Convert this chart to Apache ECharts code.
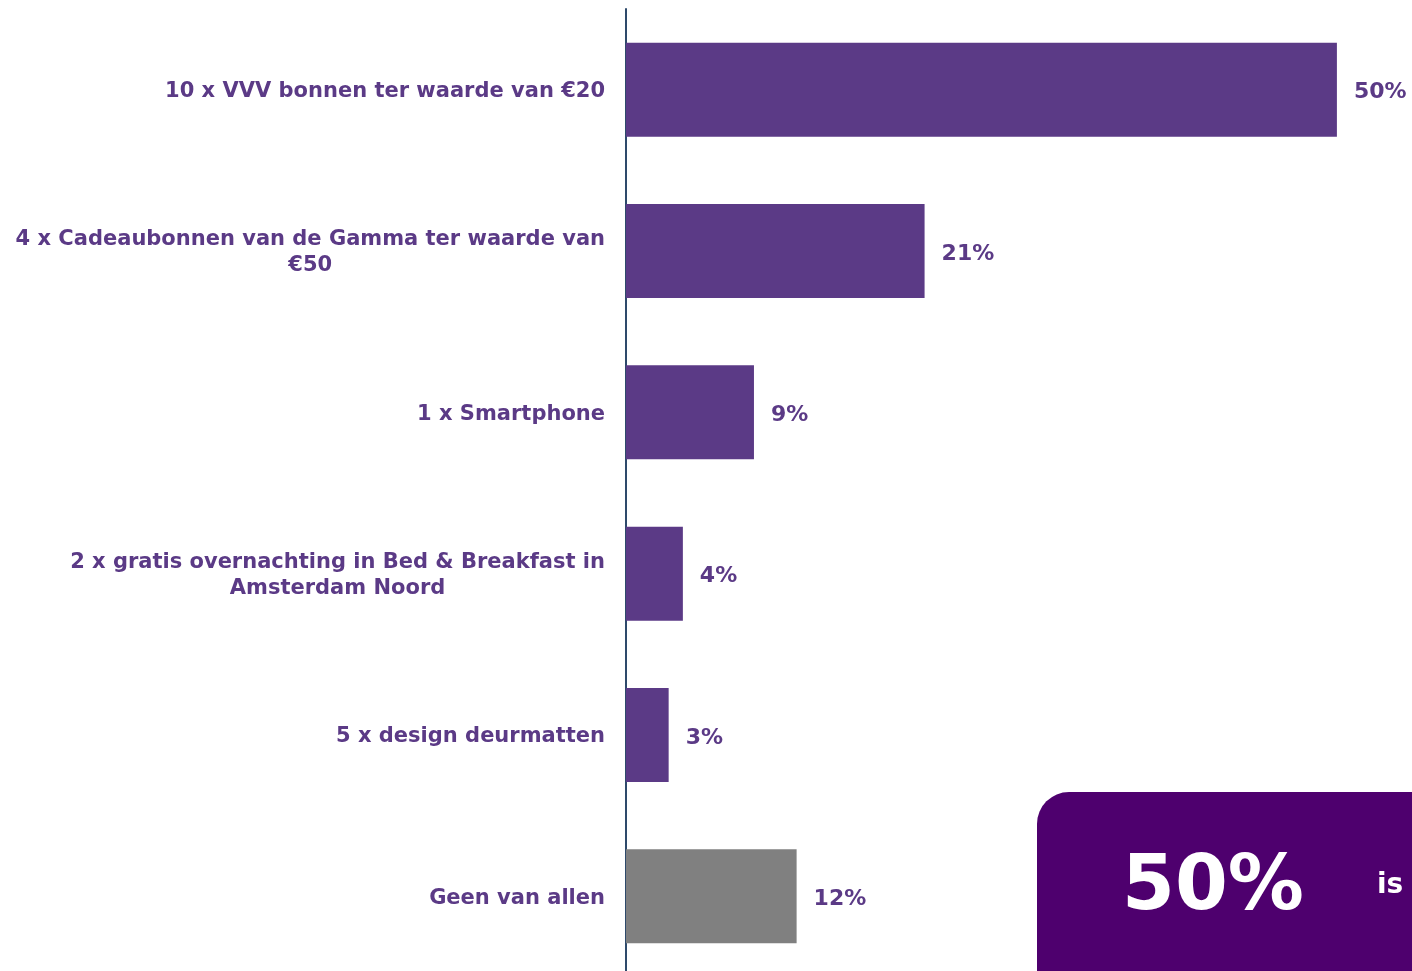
<!DOCTYPE html>
<html>
<head>
<meta charset="utf-8">
<script src="https://cdn.jsdelivr.net/npm/echarts@6/dist/echarts.min.js"></script>
<style>
  html, body { margin: 0; padding: 0; background: #ffffff; }
  #chart { width: 1412px; height: 971px; }
</style>
</head>
<body>
<div id="chart"></div>
<script>
// Prize options and share of respondents (%)
const categories = [
  '10 x VVV bonnen ter waarde van €20',
  '4 x Cadeaubonnen van de Gamma ter waarde van\n€50',
  '1 x Smartphone',
  '2 x gratis overnachting in Bed & Breakfast in\nAmsterdam Noord',
  '5 x design deurmatten',
  'Geen van allen'
];
const values = [50, 21, 9, 4, 3, 12];
const barColors = ['#5b3a86', '#5b3a86', '#5b3a86', '#5b3a86', '#5b3a86', '#808080'];
const calloutValue = '50%';
const calloutText = 'is';

const FONT = '"DejaVu Sans", Verdana, sans-serif';
const PURPLE = '#5b3a86';

const chart = echarts.init(document.getElementById('chart'), null, { renderer: 'canvas' });

chart.setOption({
  animation: false,
  grid: { left: 626, right: 4, top: 9, height: 968, outerBoundsMode: 'none', containLabel: false },
  xAxis: {
    type: 'value',
    min: 0,
    max: 55,
    show: false
  },
  yAxis: {
    type: 'category',
    inverse: true,
    data: categories,
    axisLine: { show: true, lineStyle: { color: '#2e4a6b', width: 2 } },
    axisTick: { show: false },
    axisLabel: {
      margin: 21,
      padding: [4, 0, 0, 0],
      formatter: function (v) {
        return v.split('\n').map(function (s) { return '{c|' + s + '}'; }).join('\n');
      },
      rich: {
        c: {
          align: 'center',
          color: PURPLE,
          fontFamily: FONT,
          fontWeight: 'bold',
          fontSize: 21,
          lineHeight: 26
        }
      }
    }
  },
  series: [{
    type: 'bar',
    barWidth: 94,
    data: values.map(function (v, i) {
      return { value: v, itemStyle: { color: barColors[i] } };
    }),
    label: {
      show: true,
      position: 'right',
      distance: 17,
      offset: [0, 3],
      formatter: '{c}%',
      color: PURPLE,
      fontFamily: FONT,
      fontWeight: 'bold',
      fontSize: 22
    }
  }],
  graphic: [{
    type: 'group',
    left: 1037,
    top: 792,
    children: [{
      type: 'rect',
      shape: { x: 0, y: 0, width: 420, height: 220, r: 32 },
      style: { fill: '#4e006e' }
    }, {
      type: 'text',
      x: 176,
      y: 97,
      style: {
        text: calloutValue,
        fill: '#ffffff',
        font: 'bold 76px ' + FONT,
        textAlign: 'center',
        textVerticalAlign: 'middle'
      }
    }, {
      type: 'text',
      x: 340,
      y: 94,
      style: {
        text: calloutText,
        fill: '#ffffff',
        font: 'bold 28px ' + FONT,
        textAlign: 'left',
        textVerticalAlign: 'middle'
      }
    }]
  }]
});
</script>
</body>
</html>
